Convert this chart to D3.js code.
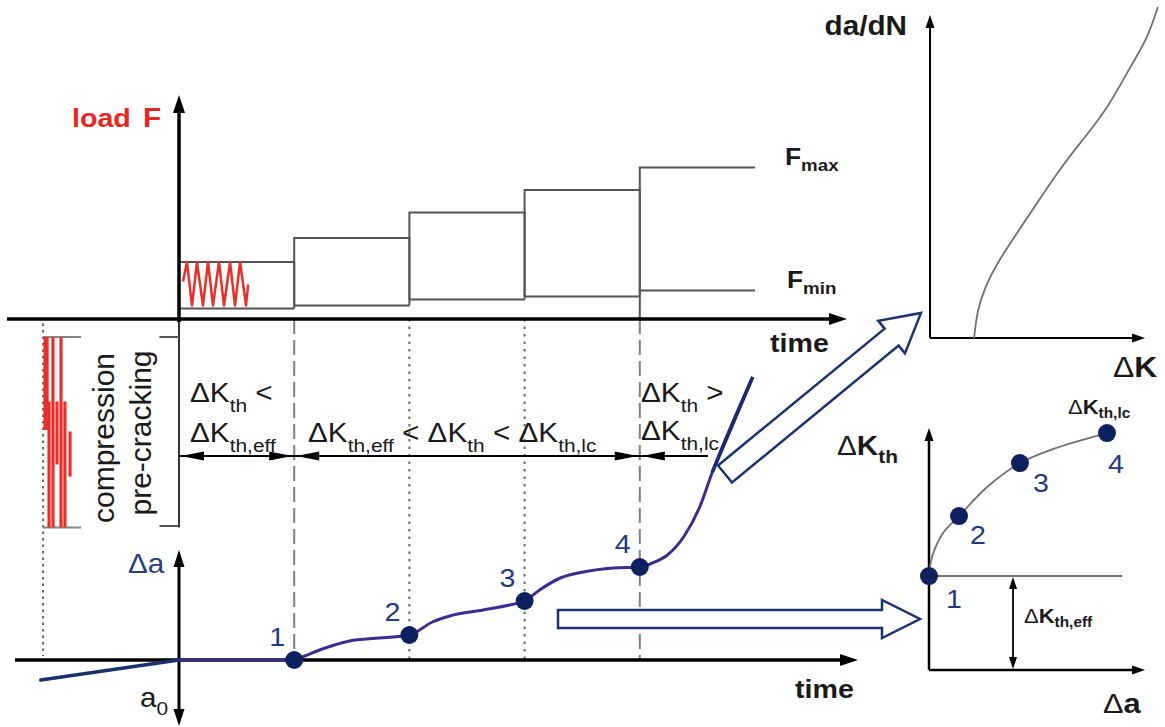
<!DOCTYPE html>
<html>
<head>
<meta charset="utf-8">
<script src="https://cdn.jsdelivr.net/npm/d3@7"></script>
<style>
  body { margin: 0; background: #fff; }
  svg { display: block; font-family: "Liberation Sans", Arial, sans-serif; }
  text { white-space: pre; }
</style>
</head>
<body>
<div id="chart"></div>
<script>
// ---- load steps (time in step units, load in arbitrary units)
var stepStart = [0, 1, 2, 3, 4];
var stepEnd   = [1, 2, 3, 4, 5];
var stepFmax  = [3.8, 5.4, 7.1, 8.6, 10.1];
var stepFmin  = [0.7, 0.9, 1.3, 1.5, 1.9];

// cyclic load sketched inside the first step
var waveT = [0.035, 0.069, 0.113, 0.156, 0.208, 0.252, 0.295, 0.347, 0.391, 0.443, 0.486, 0.530, 0.582, 0.600];
var waveF = [2.5, 3.8, 0.9, 3.8, 0.9, 3.8, 0.9, 3.8, 0.9, 3.8, 0.9, 3.8, 0.9, 2.3];

// compression pre-cracking cycles (negative load)
var compT      = [-1.163, -1.145, -1.128, -1.094, -1.059, -1.024, -0.990, -0.946];
var compTop    = [-1.2, -1.2, -5.5, -1.2, -5.5, -1.2, -5.5, -7.5];
var compBottom = [-7.4, -7.4, -13.9, -13.9, -9.7, -13.9, -13.9, -10.5];

// crack extension vs time
var crackT  = [0, 1, 1.09, 1.22, 1.35, 1.48, 1.74, 2, 2.2, 2.35, 2.64, 2.87, 3, 3.13, 3.31, 3.51, 3.77, 4, 4.11, 4.24, 4.38, 4.52, 4.63, 4.98];
var crackDa = [0, 0, 0.4, 1.0, 1.5, 1.9, 2.2, 2.5, 3.8, 4.4, 5.0, 5.5, 5.9, 7.0, 8.2, 8.8, 9.2, 9.3, 9.7, 10.5, 12.3, 15.3, 18.8, 28.3];
var pointT  = [1, 2, 3, 4];
var pointDa = [0, 2.5, 5.9, 9.3];
var pointLabels = ["1", "2", "3", "4"];

// pre-crack a0 line
var a0T  = [-1.2, 0];
var a0Da = [-2.0, 0];

// da/dN vs dK curve
var curveDK   = [2.05, 2.2, 2.56, 3.12, 4.05, 4.98, 5.91, 6.98, 8.23, 9.30, 10.09, 10.6];
var curveDadN = [0.0, 0.87, 1.58, 2.32, 3.25, 4.18, 5.11, 6.04, 7.06, 8.39, 9.23, 10.25];

// threshold vs crack extension
var thDa = [0, 0.14, 0.65, 1.39, 2.69, 4.21, 5.74, 8.24];
var thK  = [3.88, 4.67, 5.66, 6.36, 7.56, 8.55, 9.13, 9.79];
var thPointDa = [0, 1.39, 4.21, 8.24];
var thPointK  = [3.88, 6.36, 8.55, 9.79];
var thEff = 3.88;
var thEffEnd = 8.94;
var thEffArrowDa = 3.89;

var W = 1165, H = 727;
var navy = "#0d215e", navyText = "#1f3a7d", curveCol = "#3a2d8f", ink = "#1a1a1a";

var svg = d3.select("#chart").append("svg")
    .attr("width", W)
    .attr("height", H);

// scales
var x  = d3.scaleLinear().domain([0, 5]).range([179, 755]);
var yF = d3.scaleLinear().domain([0, 15]).range([319, 94]);
var yA = d3.scaleLinear().domain([0, 11]).range([660, 550]);

var xK = d3.scaleLinear().domain([0, 10]).range([930, 1145]);
var yD = d3.scaleLinear().domain([0, 10]).range([338, 15]);

var xT = d3.scaleLinear().domain([0, 10]).range([929, 1145]);
var yT = d3.scaleLinear().domain([0, 10]).range([670, 428]);

function seg(x1, y1, x2, y2, color, w, dash) {
    var l = svg.append("line")
        .attr("x1", x1).attr("y1", y1).attr("x2", x2).attr("y2", y2)
        .attr("stroke", color).attr("stroke-width", w);
    if (dash) l.attr("stroke-dasharray", dash);
    return l;
}

function head(tx, ty, angle, len, half, color) {
    svg.append("path")
        .attr("d", "M0,0L" + (-len) + "," + (-half) + "L" + (-len) + "," + half + "Z")
        .attr("transform", "translate(" + tx + "," + ty + ") rotate(" + angle + ")")
        .attr("fill", color);
}

function hollowArrow(x0, y0, x1, y1, sw, hw, hl) {
    var dx = x1 - x0, dy = y1 - y0;
    var L = Math.sqrt(dx * dx + dy * dy);
    var a = Math.atan2(dy, dx) * 180 / Math.PI;
    var p = [[0, -sw / 2], [L - hl, -sw / 2], [L - hl, -hw / 2], [L, 0],
             [L - hl, hw / 2], [L - hl, sw / 2], [0, sw / 2]];
    svg.append("path")
        .attr("d", d3.line()(p) + "Z")
        .attr("transform", "translate(" + x0 + "," + y0 + ") rotate(" + a + ")")
        .attr("fill", "#fff")
        .attr("stroke", "#1c3370")
        .attr("stroke-width", 2.5);
}

// text with subscripts, slightly stretched like the source
function label(x0, y0, parts, o) {
    var t = svg.append("text")
        .attr("transform", "translate(" + x0 + "," + y0 + ") scale(" + (o.sx || 1.1) + ",1)")
        .attr("font-size", o.size)
        .attr("font-weight", o.bold ? "bold" : "normal")
        .attr("fill", o.fill || ink)
        .attr("text-anchor", o.anchor || "start");
    var cur = 0;
    parts.forEach(function(p) {
        if (typeof p === "string") p = {t: p};
        var d = p.sub ? o.subDy : 0;
        var s = t.append("tspan").attr("dy", d - cur).text(p.t);
        if (p.sub) s.attr("font-size", o.subSize);
        if (p.b !== undefined) s.attr("font-weight", p.b ? "bold" : "normal");
        cur = d;
    });
    return t;
}

// ---------- guide lines between panels
[1, 4].forEach(function(t) {
    seg(x(t), yF(0), x(t), yA(0), "#808080", 2, "15,6");
});
[2, 3].forEach(function(t) {
    seg(x(t), yF(0), x(t), yA(0), "#666", 2, "2.5,5");
});
seg(x(-1.18), yF(-0.3), x(-1.18), yA(0) - 4, "#666", 2, "2.5,4");

// ---------- load steps
stepStart.forEach(function(s, i) {
    var pts = [[x(s), yF(stepFmin[i])], [x(s), yF(stepFmax[i])], [x(stepEnd[i]), yF(stepFmax[i])]];
    if (i < stepStart.length - 1) pts.push([x(stepEnd[i]), yF(stepFmin[i])]);
    svg.append("path").attr("d", d3.line()(pts))
        .attr("fill", "none").attr("stroke", "#555").attr("stroke-width", 2);
    seg(x(s), yF(stepFmin[i]), x(stepEnd[i]), yF(stepFmin[i]), "#555", 2);
});
seg(x(4), yF(stepFmin[4]), x(4), yF(0), "#555", 2);

// cyclic load
svg.append("path")
    .datum(waveT.map(function(t, i) { return [t, waveF[i]]; }))
    .attr("d", d3.line().x(function(d) { return x(d[0]); }).y(function(d) { return yF(d[1]); }))
    .attr("fill", "none").attr("stroke", "#e8302a").attr("stroke-width", 2.5)
    .attr("stroke-linejoin", "round");

// compression cycles
seg(x(-1.18), yF(-1.2), x(-0.85), yF(-1.2), "#888", 2);
seg(x(-1.18), yF(-13.9), x(-0.85), yF(-13.9), "#888", 2);
compT.forEach(function(t, i) {
    seg(x(t), yF(compTop[i]), x(t), yF(compBottom[i]), "#e8302a", 3.2);
});

// pre-cracking bracket
seg(x(0), yF(0), x(0), yF(-13.9), "#333", 2);
seg(x(-0.17), yF(-1.2), x(0), yF(-1.2), "#555", 2);
seg(x(-0.17), yF(-13.8), x(0), yF(-13.8), "#555", 2);

// ---------- top axes
seg(7, yF(0), 832, yF(0), "#000", 3.5);
head(847, yF(0), 0, 18, 6, "#000");
seg(x(0), yF(-0.2), x(0), 112, "#000", 3.5);
head(x(0), 95, -90, 18, 6, "#000");

// ---------- bottom axes
seg(15, yA(0), 842, yA(0), "#000", 3.5);
head(858, yA(0), 0, 18, 6, "#000");
seg(x(0), 566, x(0), 710, "#000", 3);
head(x(0), 550, -90, 17, 5.5, "#000");
head(x(0), 726, 90, 17, 5.5, "#000");

// ---------- dK regime arrows
var arrY = 456;
seg(x(0), arrY, x(1), arrY, "#000", 2);
head(x(0) + 2, arrY, 180, 23, 4.5, "#000");
head(x(1) - 2, arrY, 0, 23, 4.5, "#000");
seg(x(1), arrY, x(4), arrY, "#000", 2);
head(x(1) + 2, arrY, 180, 23, 4.5, "#000");
head(x(4) - 2, arrY, 0, 23, 4.5, "#000");
seg(x(4), arrY, 708, arrY, "#000", 2);
head(x(4) + 2, arrY, 180, 23, 4.5, "#000");

// ---------- hollow arrows to the right panels
hollowArrow(558, 619, 920, 619, 18, 38, 38);
hollowArrow(725, 474, 921, 313, 22, 42, 38);

// ---------- crack extension curve
svg.append("path")
    .datum(a0T.map(function(t, i) { return [t, a0Da[i]]; }))
    .attr("d", d3.line().x(function(d) { return x(d[0]); }).y(function(d) { return yA(d[1]); }))
    .attr("stroke", "#1b2f6e").attr("stroke-width", 3.5).attr("stroke-linecap", "round");

var crackLine = d3.line()
    .x(function(d) { return x(d[0]); })
    .y(function(d) { return yA(d[1]); })
    .curve(d3.curveMonotoneX);
var crackPts = crackT.map(function(t, i) { return [t, crackDa[i]]; });
svg.append("path")
    .datum(crackPts)
    .attr("d", crackLine)
    .attr("fill", "none").attr("stroke", curveCol).attr("stroke-width", 3);
svg.append("path")
    .datum(crackPts.slice(-2))
    .attr("d", d3.line().x(function(d) { return x(d[0]); }).y(function(d) { return yA(d[1]); }))
    .attr("stroke", "#1b2a70").attr("stroke-width", 3.5);

svg.selectAll(".crackDot")
    .data(pointT)
    .enter()
    .append("circle")
    .attr("class", "crackDot")
    .attr("cx", function(d) { return x(d); })
    .attr("cy", function(d, i) { return yA(pointDa[i]); })
    .attr("r", 9)
    .attr("fill", navy);

pointT.forEach(function(t, i) {
    label(x(t) - 25, yA(pointDa[i]) - 14, [pointLabels[i]], {size: 26, fill: navyText});
});

// ---------- top-right: da/dN vs dK
seg(xK(0), yD(0), xK(9.4), yD(0), "#000", 2);
head(xK(10), yD(0), 0, 13, 4.5, "#000");
seg(xK(0), yD(0), xK(0), yD(9.6), "#000", 2);
head(xK(0), yD(10), -90, 13, 4.5, "#000");
svg.append("path")
    .datum(curveDK.map(function(k, i) { return [k, curveDadN[i]]; }))
    .attr("d", d3.line().x(function(d) { return xK(d[0]); }).y(function(d) { return yD(d[1]); }).curve(d3.curveBasis))
    .attr("fill", "none").attr("stroke", "#707070").attr("stroke-width", 1.8);

// ---------- bottom-right: dK_th vs da
seg(xT(0), yT(0), xT(9.4), yT(0), "#000", 2.5);
head(xT(10), yT(0), 0, 13, 4.5, "#000");
seg(xT(0), yT(0), xT(0), yT(9.5), "#000", 2.5);
head(xT(0), yT(10), -90, 13, 4.5, "#000");
seg(xT(0), yT(thEff), xT(thEffEnd), yT(thEff), "#777", 2);
seg(xT(thEffArrowDa), yT(thEff) + 10, xT(thEffArrowDa), yT(0) - 10, "#000", 1.8);
head(xT(thEffArrowDa), yT(thEff) + 1, -90, 12, 4, "#000");
head(xT(thEffArrowDa), yT(0) - 1, 90, 12, 4, "#000");

svg.append("path")
    .datum(thDa.map(function(a, i) { return [a, thK[i]]; }))
    .attr("d", d3.line().x(function(d) { return xT(d[0]); }).y(function(d) { return yT(d[1]); }).curve(d3.curveCatmullRom))
    .attr("fill", "none").attr("stroke", "#707070").attr("stroke-width", 1.8);

svg.selectAll(".thDot")
    .data(thPointDa)
    .enter()
    .append("circle")
    .attr("class", "thDot")
    .attr("cx", function(d) { return xT(d); })
    .attr("cy", function(d, i) { return yT(thPointK[i]); })
    .attr("r", 9)
    .attr("fill", navy);

var thLabelDx = [17, 11, 13, 1];
var thLabelDy = [32, 28, 29, 40];
thPointDa.forEach(function(a, i) {
    label(xT(a) + thLabelDx[i], yT(thPointK[i]) + thLabelDy[i], [pointLabels[i]], {size: 26, fill: navyText});
});

// ---------- texts
label(72, 127, ["load"], {size: 26, bold: true, fill: "#e8251f"});
label(143, 127, ["F"], {size: 27, bold: true, fill: "#e8251f"});

label(785, 165, ["F", {t: "max", sub: 1}], {size: 24, subSize: 17, subDy: 6, bold: true});
label(787, 288, ["F", {t: "min", sub: 1}], {size: 24, subSize: 17, subDy: 6, bold: true});
label(770, 352, ["time"], {size: 26, bold: true});
label(795, 698, ["time"], {size: 26, bold: true});

var big = {size: 27, subSize: 19, subDy: 10};
label(190, 402, ["\u0394K", {t: "th", sub: 1}, " <"], big);
label(190, 442, ["\u0394K", {t: "th,eff", sub: 1}], big);
label(308, 442, ["\u0394K", {t: "th,eff", sub: 1}, " < \u0394K", {t: "th", sub: 1}, " < \u0394K", {t: "th,lc", sub: 1}], big);
label(641, 402, ["\u0394K", {t: "th", sub: 1}, " >"], big);
label(641, 440, ["\u0394K", {t: "th,lc", sub: 1}], big);

svg.append("text")
    .attr("transform", "translate(114,438) rotate(-90)")
    .attr("text-anchor", "middle").attr("font-size", 30).attr("fill", ink)
    .text("compression");
svg.append("text")
    .attr("transform", "translate(151,433) rotate(-90)")
    .attr("text-anchor", "middle").attr("font-size", 30).attr("fill", ink)
    .text("pre-cracking");

label(128, 573, ["\u0394a"], {size: 27, fill: "#2a3f80"});
label(140, 707, ["a", {t: "0", sub: 1}], {size: 27, subSize: 19, subDy: 8});

label(907, 35, ["da/dN"], {size: 27, bold: true, anchor: "end"});
label(1113, 377, [{t: "\u0394", b: 0}, "K"], {size: 29, bold: true});

label(837, 455, [{t: "\u0394", b: 0}, "K", {t: "th", sub: 1}], {size: 27, subSize: 19, subDy: 8, bold: true});
label(1068, 414, [{t: "\u0394", b: 0}, "K", {t: "th,lc", sub: 1}], {size: 20, subSize: 14, subDy: 4, bold: true});
label(1024, 623, [{t: "\u0394", b: 0}, "K", {t: "th,eff", sub: 1}], {size: 20, subSize: 14, subDy: 4, bold: true});
label(1103, 713, [{t: "\u0394", b: 0}, "a"], {size: 28, bold: true});
</script>
</body>
</html>
